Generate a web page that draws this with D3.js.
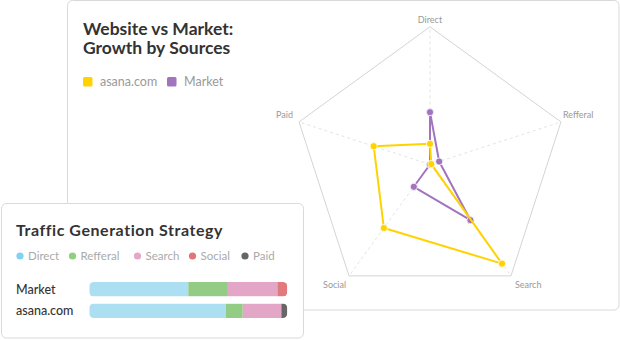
<!DOCTYPE html>
<html><head><meta charset="utf-8">
<script src="https://cdn.jsdelivr.net/npm/d3@7/dist/d3.min.js"></script>
<style>
html,body{margin:0;padding:0;background:#fff;}
svg{display:block;font-family:Lato,"Open Sans",sans-serif;}
</style></head>
<body><svg id="c" width="620" height="340"></svg>
<script>
// ---- data ----
const axes = ["Direct", "Refferal", "Search", "Social", "Paid"];
const radarSeries = ["asana.com", "Market"];
const asanaGrowth = [15, 1, 89, 57, 43];
const marketGrowth = [38, 7, 50, 20, 0];
const radarMax = 100;

const sources = ["Direct", "Refferal", "Search", "Social", "Paid"];
const barRows = ["Market", "asana.com"];
const marketShare = [50, 20, 25, 5, 0];
const asanaShare = [69, 8.5, 19.5, 0, 3];

const seriesColors = {"asana.com": "#ffd200", "Market": "#a274bf"};
const sourceColors = ["#acdff2", "#93cd85", "#e4a6c7", "#e07a7c", "#666666"];
const sourceDots = ["#7fd2f0", "#8ed07e", "#e6a6c8", "#e17577", "#666666"];

const svg = d3.select("#c");

// ---- big card ----
svg.append("rect").attr("x", 67.5).attr("y", 0.5).attr("width", 551.5).attr("height", 309.5)
  .attr("rx", 5).attr("fill", "#fff").attr("stroke", "#d9d9d9");

svg.append("text").attr("x", 83).attr("y", 35).attr("font-size", 17.5).attr("font-weight", 700)
  .attr("fill", "#333").text("Website vs Market:");
svg.append("text").attr("x", 83).attr("y", 53.5).attr("font-size", 17.5).attr("font-weight", 700)
  .attr("fill", "#333").text("Growth by Sources");

const lg = svg.append("g");
const lgX = d3.scalePoint().domain(radarSeries).range([83, 167]);
radarSeries.forEach(s => {
  lg.append("rect").attr("x", lgX(s)).attr("y", 77).attr("width", 9.5).attr("height", 9.5)
    .attr("rx", 1.5).attr("fill", seriesColors[s]);
  lg.append("text").attr("x", lgX(s) + 17).attr("y", 86).attr("font-size", 12.5)
    .attr("fill", "#9a9a9a").text(s);
});

// ---- radar ----
const cx = 430, cy = 164.5, R = 137.7;
const ang = d3.scalePoint().domain(axes).range([0, 2 * Math.PI * 4 / 5]);
const rScale = d3.scaleLinear().domain([0, radarMax]).range([0, R]);
const pt = (a, v) => {
  const t = ang(a);
  return [cx + rScale(v) * Math.sin(t), cy - rScale(v) * Math.cos(t)];
};
const rg = svg.append("g");
axes.forEach(a => {
  const p = pt(a, radarMax);
  rg.append("line").attr("x1", cx).attr("y1", cy).attr("x2", p[0]).attr("y2", p[1])
    .attr("stroke", "#dcdcdc").attr("stroke-width", 0.8).attr("stroke-dasharray", "3,3");
});
rg.append("path").attr("d", d3.line().curve(d3.curveLinearClosed)(axes.map(a => pt(a, radarMax))))
  .attr("fill", "none").attr("stroke", "#d4d4d4").attr("stroke-width", 1);

const labelPos = {
  "Direct": [0, -4, "middle"], "Refferal": [2, -4, "start"], "Search": [4, 12, "start"],
  "Social": [-3, 12, "end"], "Paid": [-6, -4, "end"]
};
axes.forEach(a => {
  const p = pt(a, radarMax), o = labelPos[a];
  rg.append("text").attr("x", p[0] + o[0]).attr("y", p[1] + o[1]).attr("text-anchor", o[2])
    .attr("font-size", 9).attr("fill", "#999").text(a);
});

const drawSeries = (vals, color) => {
  const pts = axes.map((a, i) => pt(a, vals[i]));
  rg.append("path").attr("d", d3.line().curve(d3.curveLinearClosed)(pts))
    .attr("fill", "none").attr("stroke", color).attr("stroke-width", 2).attr("stroke-linejoin", "round");
  rg.selectAll(null).data(pts).enter().append("circle")
    .attr("cx", d => d[0]).attr("cy", d => d[1]).attr("r", 3.6)
    .attr("fill", color).attr("stroke", "#fff").attr("stroke-width", 0.8);
};
drawSeries(marketGrowth, seriesColors["Market"]);
drawSeries(asanaGrowth, seriesColors["asana.com"]);

// ---- small card ----
svg.append("rect").attr("x", 1.5).attr("y", 203.5).attr("width", 302).attr("height", 134.5)
  .attr("rx", 5).attr("fill", "#fff").attr("stroke", "#d9d9d9");
svg.append("text").attr("x", 16).attr("y", 236).attr("font-size", 16).attr("font-weight", 700)
  .attr("letter-spacing", 0.55).attr("fill", "#333").text("Traffic Generation Strategy");

const legX = [20, 72.5, 137.5, 192.5, 245];
sources.forEach((s, i) => {
  svg.append("circle").attr("cx", legX[i]).attr("cy", 256).attr("r", 3.6).attr("fill", sourceDots[i]);
  svg.append("text").attr("x", legX[i] + 8).attr("y", 260).attr("font-size", 11.5)
    .attr("fill", "#aaa").text(s);
});

const x = d3.scaleLinear().domain([0, 100]).range([89.3, 287.3]);
const y = d3.scaleBand().domain(barRows).range([282, 318]).paddingInner(0.33);
const rowData = {"Market": marketShare, "asana.com": asanaShare};
const defs = svg.append("defs");
barRows.forEach((row, ri) => {
  const id = "clip" + ri;
  defs.append("clipPath").attr("id", id).append("rect")
    .attr("x", x(0)).attr("y", y(row)).attr("width", x(100) - x(0)).attr("height", y.bandwidth()).attr("rx", 4.5);
  const g = svg.append("g").attr("clip-path", `url(#${id})`);
  let acc = 0;
  rowData[row].forEach((v, i) => {
    g.append("rect").attr("x", x(acc)).attr("y", y(row)).attr("width", Math.max(0, x(acc + v) - x(acc)))
      .attr("height", y.bandwidth()).attr("fill", sourceColors[i]);
    acc += v;
  });
  svg.append("text").attr("x", 16).attr("y", y(row) + y.bandwidth() / 2 + 4.5).attr("font-size", 12.5)
    .attr("font-weight", 500).attr("fill", "#333").text(row);
});
</script></body></html>
